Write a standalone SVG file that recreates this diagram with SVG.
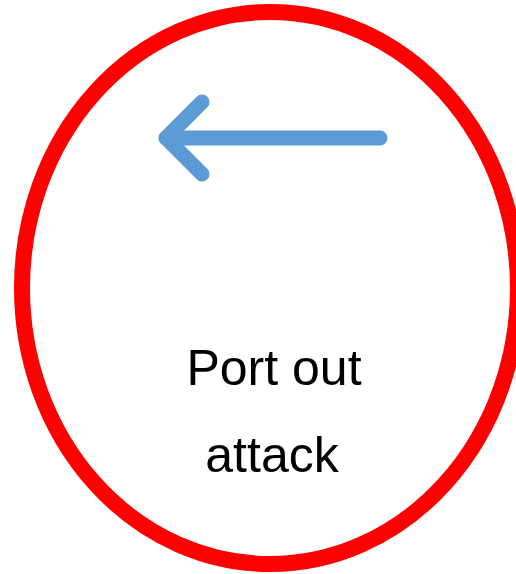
<svg xmlns="http://www.w3.org/2000/svg" width="516" height="574" viewBox="0 0 516 574">
<style>
.ring{fill:none;stroke:#FF0000;stroke-width:16}
.arrow{fill:none;stroke:#5B9BD5;stroke-width:15;stroke-linecap:round;stroke-linejoin:round}
.lbl{font-family:"Liberation Sans",Arial,sans-serif;font-size:50px;fill:#000000;text-anchor:middle}
</style>
<rect width="516" height="574" fill="#FFFFFF"/>
<g id="node-circle">
<ellipse class="ring" cx="270" cy="288" rx="248" ry="276"/>
<text class="lbl" x="274" y="385">Port out</text>
<text class="lbl" x="272" y="472">attack</text>
</g>
<g id="connectors">
<line class="arrow" x1="380" y1="138" x2="166" y2="138"/>
<polyline class="arrow" points="202,102 166,138 202,174"/>
</g>
</svg>
